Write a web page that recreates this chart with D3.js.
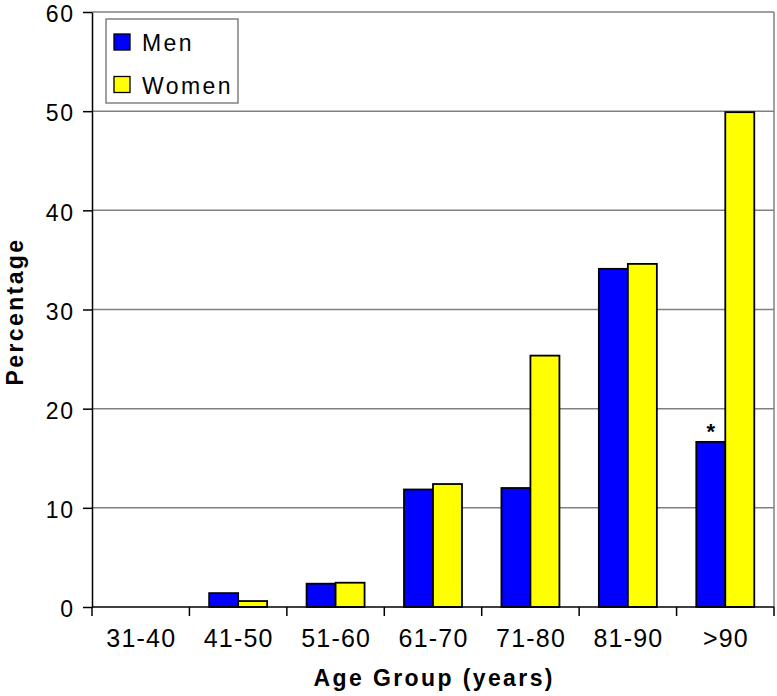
<!DOCTYPE html>
<html>
<head>
<meta charset="utf-8">
<script src="https://cdn.jsdelivr.net/npm/d3@7"></script>
<style>
  body { margin: 0; background: #fff; }
  svg { display: block; font-family: "Liberation Sans", Arial, sans-serif; }
  svg text { letter-spacing: 2.4px; }
  svg text.xlabel { letter-spacing: 1.2px; }
  svg .tick text { letter-spacing: 1.8px; }
</style>
</head>
<body>
<svg id="chart"></svg>
<script>
  "use strict";

  /***** Données *****/
  var ageGroups = ["31-40", "41-50", "51-60", "61-70", "71-80", "81-90", ">90"];
  var seriesNames = ["Men", "Women"];
  var menValues = [0, 1.4, 2.35, 11.85, 12.0, 34.1, 16.65];
  var womenValues = [0, 0.6, 2.45, 12.4, 25.35, 34.6, 49.9];
  var seriesColors = ["#0000ff", "#ffff00"];
  var yTicks = [0, 10, 20, 30, 40, 50, 60];
  var starredCategory = ">90";

  /***** Configuration *****/
  var width = 777;
  var height = 696;
  var margin = { top: 12, right: 3, bottom: 89, left: 92 };
  var plotWidth = width - margin.left - margin.right;
  var plotHeight = height - margin.top - margin.bottom;
  var spacing = 2.4; // espacement des lettres, compensé pour l'ancrage

  var rows = ageGroups.map(function (g, i) {
    return { group: g, values: [menValues[i], womenValues[i]] };
  });

  /***** Échelles *****/
  var x = d3.scaleBand().domain(ageGroups).range([0, plotWidth]).padding(0);
  var xSub = d3.scaleBand().domain(seriesNames).range([0, x.bandwidth()])
    .paddingInner(0).paddingOuter(0.68);
  var y = d3.scaleLinear().domain([0, 60]).range([plotHeight, 0]);
  var color = d3.scaleOrdinal().domain(seriesNames).range(seriesColors);

  var svg = d3.select("#chart").attr("width", width).attr("height", height);
  var g = svg.append("g")
    .attr("transform", "translate(" + margin.left + "," + margin.top + ")");

  // Grille horizontale et cadre gris
  g.selectAll(".grid")
    .data(yTicks.filter(function (t) { return t > 0; }))
    .enter().append("line")
    .attr("x1", 0).attr("x2", plotWidth)
    .attr("y1", function (d) { return y(d); })
    .attr("y2", function (d) { return y(d); })
    .attr("stroke", "#808080").attr("stroke-width", 1.5);

  g.append("line")
    .attr("x1", plotWidth).attr("x2", plotWidth)
    .attr("y1", 0).attr("y2", plotHeight)
    .attr("stroke", "#808080").attr("stroke-width", 1.5);

  /***** Barres *****/
  var groups = g.selectAll(".group")
    .data(rows)
    .enter().append("g")
    .attr("transform", function (d) { return "translate(" + x(d.group) + ",0)"; });

  groups.selectAll("rect")
    .data(function (d) {
      return d.values.map(function (v, i) { return { key: seriesNames[i], value: v }; })
        .filter(function (d) { return d.value > 0; });
    })
    .enter().append("rect")
    .attr("x", function (d) { return xSub(d.key); })
    .attr("y", function (d) { return y(d.value); })
    .attr("width", xSub.bandwidth())
    .attr("height", function (d) { return y(0) - y(d.value); })
    .attr("fill", function (d) { return color(d.key); })
    .attr("stroke", "#000").attr("stroke-width", 1.8);

  // Astérisque sur la barre des hommes > 90
  var starIndex = ageGroups.indexOf(starredCategory);
  g.append("text")
    .attr("x", x(starredCategory) + xSub("Men") + xSub.bandwidth() / 2 + spacing / 2)
    .attr("y", y(menValues[starIndex]) - 3)
    .attr("text-anchor", "middle")
    .attr("font-size", 22).attr("font-weight", "bold")
    .text("*");

  /***** Axes *****/
  var yAxis = d3.axisLeft(y).tickValues(yTicks).tickSizeInner(9).tickSizeOuter(0).tickPadding(10);
  var yAxisG = g.append("g").call(yAxis);
  yAxisG.select(".domain").attr("stroke-width", 1.5);
  yAxisG.selectAll(".tick line").attr("stroke-width", 1.5);
  yAxisG.selectAll("text").attr("font-size", 23).attr("fill", "#000")
    .attr("dx", 1.8)
    .attr("dy", "0.42em")
    .attr("font-family", "Liberation Sans, Arial, sans-serif");

  var xAxisG = g.append("g").attr("transform", "translate(0," + plotHeight + ")");
  xAxisG.append("line")
    .attr("x1", 0).attr("x2", plotWidth)
    .attr("stroke", "#000").attr("stroke-width", 1.5);
  xAxisG.selectAll(".xtick")
    .data(ageGroups.map(function (d) { return x(d); }).concat([plotWidth]))
    .enter().append("line")
    .attr("x1", function (d) { return d; }).attr("x2", function (d) { return d; })
    .attr("y1", 0).attr("y2", 9)
    .attr("stroke", "#000").attr("stroke-width", 1.5);
  xAxisG.selectAll(".xlabel")
    .data(ageGroups)
    .enter().append("text")
    .attr("class", "xlabel")
    .attr("x", function (d) { return x(d) + x.bandwidth() / 2 + 0.6; })
    .attr("y", 40)
    .attr("text-anchor", "middle")
    .attr("font-size", 25)
    .text(function (d) { return d; });

  /***** Titres des axes *****/
  svg.append("text")
    .attr("x", margin.left + plotWidth / 2 + spacing / 2)
    .attr("y", 686)
    .attr("text-anchor", "middle")
    .attr("font-size", 23).attr("font-weight", "bold")
    .text("Age Group (years)");

  svg.append("text")
    .attr("transform", "translate(23," + (margin.top + plotHeight / 2 + 2) + ") rotate(-90)")
    .attr("text-anchor", "middle")
    .attr("font-size", 23).attr("font-weight", "bold")
    .text("Percentage");

  /***** Légende *****/
  var legend = svg.append("g").attr("transform", "translate(106,19)");
  legend.append("rect")
    .attr("width", 132).attr("height", 84)
    .attr("fill", "#fff").attr("stroke", "#808080").attr("stroke-width", 1.5);
  var items = legend.selectAll(".item")
    .data(seriesNames)
    .enter().append("g")
    .attr("transform", function (d, i) { return "translate(8," + (15 + i * 42.5) + ")"; });
  items.append("rect")
    .attr("width", 16).attr("height", 16)
    .attr("fill", function (d) { return color(d); })
    .attr("stroke", "#000").attr("stroke-width", 1.3);
  items.append("text")
    .attr("x", 28).attr("y", 17)
    .attr("font-size", 23)
    .text(function (d) { return d; });
</script>
</body>
</html>
